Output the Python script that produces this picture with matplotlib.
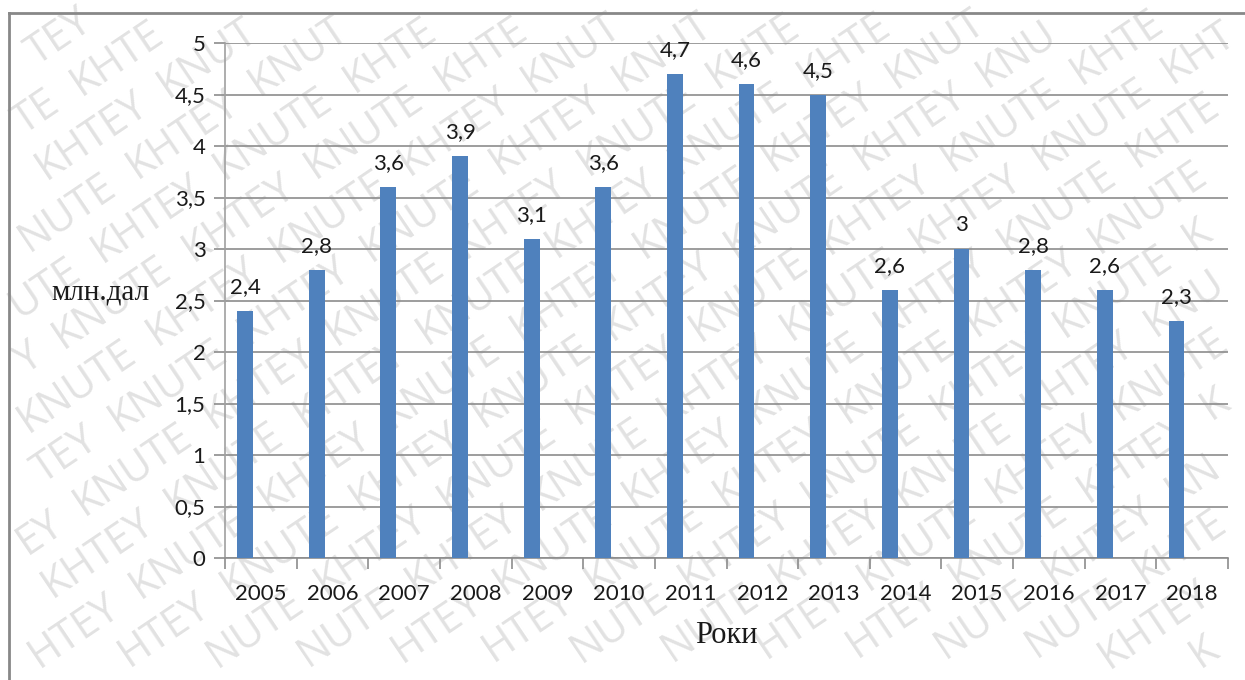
import matplotlib
matplotlib.use("Agg")
import matplotlib.pyplot as plt
import numpy as np
from matplotlib.lines import Line2D

# Виробництво, млн. дал
years = ['2005', '2006', '2007', '2008', '2009', '2010', '2011',
         '2012', '2013', '2014', '2015', '2016', '2017', '2018']
values = [2.4, 2.8, 3.6, 3.9, 3.1, 3.6, 4.7, 4.6, 4.5, 2.6, 3.0, 2.8, 2.6, 2.3]
y_ticks = [0, 0.5, 1, 1.5, 2, 2.5, 3, 3.5, 4, 4.5, 5]
wm_words = ['KHTEY', 'KNUTE']

bar_color = '#4F81BD'
grid_color = '#8c8c8c'
text_color = '#1a1a1a'

W, H = 1245, 680


def fmt(v):
    return ('%g' % v).replace('.', ',')


fig = plt.figure(figsize=(W / 100, H / 100), dpi=100)
fig.patch.set_facecolor('white')
r = fig.canvas.get_renderer()

# diagonal watermark: lattice in rotated coordinates, one text per word;
# words at the border are shortened to the letters that fit
deg = 34
ang = np.deg2rad(deg)
u = np.array([np.cos(ang), np.sin(ang)])
nv = np.array([-np.sin(ang), np.cos(ang)])
step, pitch = 152, 50
wm_size = 30
wm_kw = dict(rotation=deg, rotation_mode='anchor', va='baseline',
             fontsize=wm_size, color='#e2e2e2', family='Open Sans', zorder=-5)


def fits(t):
    bb = t.get_window_extent(r)
    return bb.x0 >= 0 and bb.y0 >= 0 and bb.x1 <= W and bb.y1 <= H


widths = {}
for w in wm_words:
    t = fig.text(0, 0, w, fontsize=wm_size, family='Open Sans')
    widths[w] = t.get_window_extent(r).width
    t.remove()

corners = np.array([[0, 0], [W, 0], [0, H], [W, H]])
a_rng = corners @ u
b_rng = corners @ nv
half_cap = 0.36 * wm_size * 100 / 72
for j, b in enumerate(np.arange(b_rng.min() - pitch, b_rng.max() + pitch, pitch)):
    shift = (j % 2) * 0.5 * step
    for i, a in enumerate(np.arange(a_rng.min() - step, a_rng.max() + step, step)):
        w = wm_words[(i + j) % 2]
        c = (a + shift) * u + b * nv - half_cap * nv
        if not (-200 < c[0] < W + 200 and -200 < c[1] < H + 200):
            continue
        s = c - widths[w] / 2 * u
        e = c + widths[w] / 2 * u
        for k in range(len(w), 0, -1):
            t = fig.text(s[0] / W, s[1] / H, w[:k], ha='left', **wm_kw)
            if fits(t):
                break
            t.remove()
            t = fig.text(e[0] / W, e[1] / H, w[-k:], ha='right', **wm_kw)
            if fits(t):
                break
            t.remove()

# outer frame (left and top edges)
fig.add_artist(Line2D([9 / W, 9 / W], [0, 1 - 13 / H],
                      transform=fig.transFigure, color='#888888', lw=2))
fig.add_artist(Line2D([9 / W, 1], [1 - 13 / H, 1 - 13 / H],
                      transform=fig.transFigure, color='#888888', lw=2))

ax = fig.add_axes([225 / W, 1 - 558 / H, 1003 / W, 515 / H])
ax.patch.set_alpha(0)

x = np.arange(len(years))
bw = 0.22
bars = ax.bar(x - 0.22, values, width=bw, color=bar_color, zorder=3)

for b, v in zip(bars, values):
    ax.annotate(fmt(v), (b.get_x() + b.get_width() / 2, v),
                xytext=(0, 10), textcoords='offset points',
                ha='center', va='bottom', fontsize=16, family='Lato',
                color=text_color, zorder=4)

ax.set_xlim(-0.5, len(years) - 0.5)
ax.set_ylim(0, 5)
ax.set_yticks(y_ticks)
ax.set_yticklabels([fmt(t) for t in y_ticks], fontsize=16, family='Lato',
                   color=text_color)
ax.set_xticks(x)
ax.set_xticklabels(years, fontsize=16, family='Lato', color=text_color)
ax.set_xticks(np.arange(-0.5, len(years)), minor=True)

ax.tick_params(axis='x', which='major', length=0, pad=19)
ax.tick_params(axis='x', which='minor', length=8, color=grid_color, width=1.2)
ax.tick_params(axis='y', length=8, color=grid_color, width=1.2, pad=6)

ax.yaxis.grid(True, color=grid_color, lw=1.2, zorder=1)
ax.set_axisbelow(True)
for s in ['top', 'right']:
    ax.spines[s].set_visible(False)
ax.spines['left'].set_color('#a0a0a0')
ax.spines['bottom'].set_color(grid_color)
ax.spines['left'].set_linewidth(1.2)
ax.spines['bottom'].set_linewidth(1.2)

ax.set_ylabel('млн.дал', rotation=0, fontsize=21, family='Liberation Serif',
              color=text_color)
ax.yaxis.set_label_coords(-0.1246, 0.49)
ax.set_xlabel('Роки', fontsize=22, family='Liberation Serif',
              color=text_color, labelpad=12)

fig.savefig('out.png', dpi=100)
